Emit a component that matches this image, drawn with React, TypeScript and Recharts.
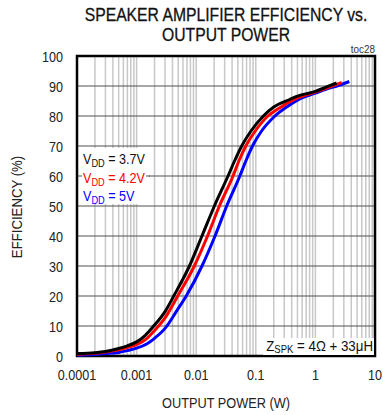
import React from "react";
import { LineChart, Line, XAxis, YAxis, CartesianGrid, ReferenceArea } from "recharts";

const decades = [0.0001, 0.001, 0.01, 0.1, 1, 10];
const minorMultipliers = [1, 2, 3, 4, 5, 6, 7, 8, 9];
const yTicks = [0, 10, 20, 30, 40, 50, 60, 70, 80, 90, 100];

const vdd37 = [
  { p: 0.0001, eff: 0.8 }, { p: 0.0002, eff: 1.1 }, { p: 0.0003, eff: 1.5 },
  { p: 0.0005, eff: 2.5 }, { p: 0.0007, eff: 3.4 }, { p: 0.001, eff: 4.7 },
  { p: 0.0014, eff: 6.9 }, { p: 0.0019, eff: 9.8 }, { p: 0.003, eff: 14.8 },
  { p: 0.0042, eff: 20 }, { p: 0.0077, eff: 30 }, { p: 0.0125, eff: 40 },
  { p: 0.0202, eff: 50 }, { p: 0.0342, eff: 60 }, { p: 0.044, eff: 65 },
  { p: 0.058, eff: 70 }, { p: 0.083, eff: 75 }, { p: 0.134, eff: 80 },
  { p: 0.2, eff: 83 }, { p: 0.37, eff: 85.5 }, { p: 0.5, eff: 86.6 },
  { p: 1.0, eff: 88.2 }, { p: 1.5, eff: 89.6 }, { p: 2.27, eff: 91 },
];
const vdd42 = [
  { p: 0.0001, eff: 0.6 }, { p: 0.0002, eff: 0.9 }, { p: 0.0003, eff: 1.3 },
  { p: 0.0005, eff: 2.1 }, { p: 0.0007, eff: 2.8 }, { p: 0.001, eff: 3.8 },
  { p: 0.0015, eff: 5.9 }, { p: 0.002, eff: 8.5 }, { p: 0.003, eff: 12.7 },
  { p: 0.0049, eff: 20 }, { p: 0.0093, eff: 30 }, { p: 0.0155, eff: 40 },
  { p: 0.0245, eff: 50 }, { p: 0.0415, eff: 60 }, { p: 0.052, eff: 65 },
  { p: 0.068, eff: 70 }, { p: 0.098, eff: 75 }, { p: 0.16, eff: 80 },
  { p: 0.22, eff: 82 }, { p: 0.5, eff: 86 }, { p: 1.0, eff: 88 },
  { p: 1.5, eff: 89.2 }, { p: 2.77, eff: 91.2 },
];
const vdd5 = [
  { p: 0.0001, eff: 0.3 }, { p: 0.0002, eff: 0.5 }, { p: 0.0003, eff: 0.8 },
  { p: 0.0005, eff: 1.2 }, { p: 0.0007, eff: 1.8 }, { p: 0.001, eff: 2.6 },
  { p: 0.0015, eff: 4.1 }, { p: 0.002, eff: 5.9 }, { p: 0.003, eff: 9.2 },
  { p: 0.0048, eff: 15.3 }, { p: 0.0068, eff: 20 }, { p: 0.0125, eff: 30 },
  { p: 0.0207, eff: 40 }, { p: 0.0325, eff: 50 }, { p: 0.054, eff: 60 },
  { p: 0.068, eff: 65 }, { p: 0.088, eff: 70 }, { p: 0.125, eff: 75 },
  { p: 0.21, eff: 80 }, { p: 0.33, eff: 83 }, { p: 0.5, eff: 85.3 },
  { p: 1.0, eff: 87.6 }, { p: 1.5, eff: 88.9 }, { p: 2.5, eff: 90.2 },
  { p: 3.7, eff: 91.5 },
];

const xTicks: number[] = [];
decades.forEach((d, i) => {
  if (i === decades.length - 1) xTicks.push(d);
  else minorMultipliers.forEach((m) => xTicks.push(parseFloat((d * m).toPrecision(6))));
});

const FONT = "'Liberation Sans', Arial, sans-serif";
const SX = 0.84;

const isDecade = (v: number) => {
  const l = Math.log10(v);
  return Math.abs(l - Math.round(l)) < 1e-9;
};

const XTick = (props: any) => {
  const { x, y, payload } = props;
  if (!isDecade(payload.value)) return <g />;
  return (
    <text transform={`translate(${x},${y + 16}) scale(${SX},1)`} textAnchor="middle" fontFamily={FONT} fontSize={15} fill="#222">
      {String(payload.value)}
    </text>
  );
};

const YTick = (props: any) => {
  const { y, payload } = props;
  return (
    <text transform={`translate(63,${y + 5.5}) scale(${SX},1)`} textAnchor="end" fontFamily={FONT} fontSize={15} fill="#222">
      {payload.value}
    </text>
  );
};

export default function App() {
  return (
    <div style={{ position: "absolute", left: 0, top: 0, width: 383, height: 415, background: "#fff" }}>
      <LineChart
        width={383}
        height={415}
        margin={{ top: 56, right: 8, bottom: 29, left: 7 }}
      >
        <CartesianGrid horizontal={false} vertical={true} stroke="#c8c8c8" strokeWidth={1.5} />
        <CartesianGrid horizontal={true} vertical={false} stroke="#505050" strokeWidth={1.2} />
        <XAxis
          dataKey="p"
          type="number"
          scale="log"
          domain={[0.0001, 10]}
          ticks={xTicks}
          interval={0}
          allowDataOverflow
          tickLine={false}
          axisLine={false}
          tick={<XTick />}
          height={30}
        />
        <YAxis
          dataKey="eff"
          type="number"
          domain={[0, 100]}
          ticks={yTicks}
          interval={0}
          tickLine={false}
          axisLine={false}
          tick={<YTick />}
          width={70}
        />
        <Line data={vdd5} dataKey="eff" type="monotone" stroke="#0000ff" strokeWidth={3} dot={false} isAnimationActive={false} />
        <Line data={vdd42} dataKey="eff" type="monotone" stroke="#ff0000" strokeWidth={3} dot={false} isAnimationActive={false} />
        <Line data={vdd37} dataKey="eff" type="monotone" stroke="#000000" strokeWidth={3} dot={false} isAnimationActive={false} />
        <ReferenceArea x1={0.0001} x2={10} y1={0} y2={100} fill="none" stroke="#000" strokeWidth={2.5} ifOverflow="visible" />
      </LineChart>
      <svg width={383} height={415} style={{ position: "absolute", left: 0, top: 0, pointerEvents: "none" }}>
        <g fontFamily={FONT} fill="#111">
          <text transform="translate(226,20.5) scale(0.85,1)" textAnchor="middle" fontSize={18.5} stroke="#111" strokeWidth={0.3}>SPEAKER AMPLIFIER EFFICIENCY vs.</text>
          <text transform="translate(226,40.5) scale(0.85,1)" textAnchor="middle" fontSize={18.5} stroke="#111" strokeWidth={0.3}>OUTPUT POWER</text>
          <text transform="translate(375,53) scale(0.9,1)" textAnchor="end" fontSize={11} fill="#333">toc28</text>
          <text transform="translate(226,408) scale(0.85,1)" textAnchor="middle" fontSize={15} fill="#222">OUTPUT POWER (W)</text>
          <text transform="translate(22,207) rotate(-90) scale(0.88,1)" textAnchor="middle" fontSize={15} fill="#222">EFFICIENCY (%)</text>
        </g>
        <rect x={79} y={148} width={70} height={56} fill="#fff" />
        <line x1={79} y1={176} x2={150} y2={176} stroke="#505050" strokeWidth={1.2} />
        <rect x={82} y={167} width={64} height={18} fill="#fff" />
        <g fontFamily={FONT} fontSize={15}>
          <text transform={`translate(83,164) scale(${SX},1)`} fill="#111">V<tspan fontSize={11} dy={3}>DD</tspan><tspan dy={-3}> = 3.7V</tspan></text>
          <text transform={`translate(83,182.5) scale(${SX},1)`} fill="#ff0000">V<tspan fontSize={11} dy={3}>DD</tspan><tspan dy={-3}> = 4.2V</tspan></text>
          <text transform={`translate(83,201) scale(${SX},1)`} fill="#0000ff">V<tspan fontSize={11} dy={3}>DD</tspan><tspan dy={-3}> = 5V</tspan></text>
        </g>
        <rect x={263} y={338} width={111} height={17} fill="#fff" />
        <text transform="translate(373,351) scale(0.95,1)" textAnchor="end" fontFamily={FONT} fontSize={14} fill="#111">Z<tspan fontSize={10} dy={2}>SPK</tspan><tspan dy={-2}> = 4Ω + 33μH</tspan></text>
      </svg>
    </div>
  );
}
